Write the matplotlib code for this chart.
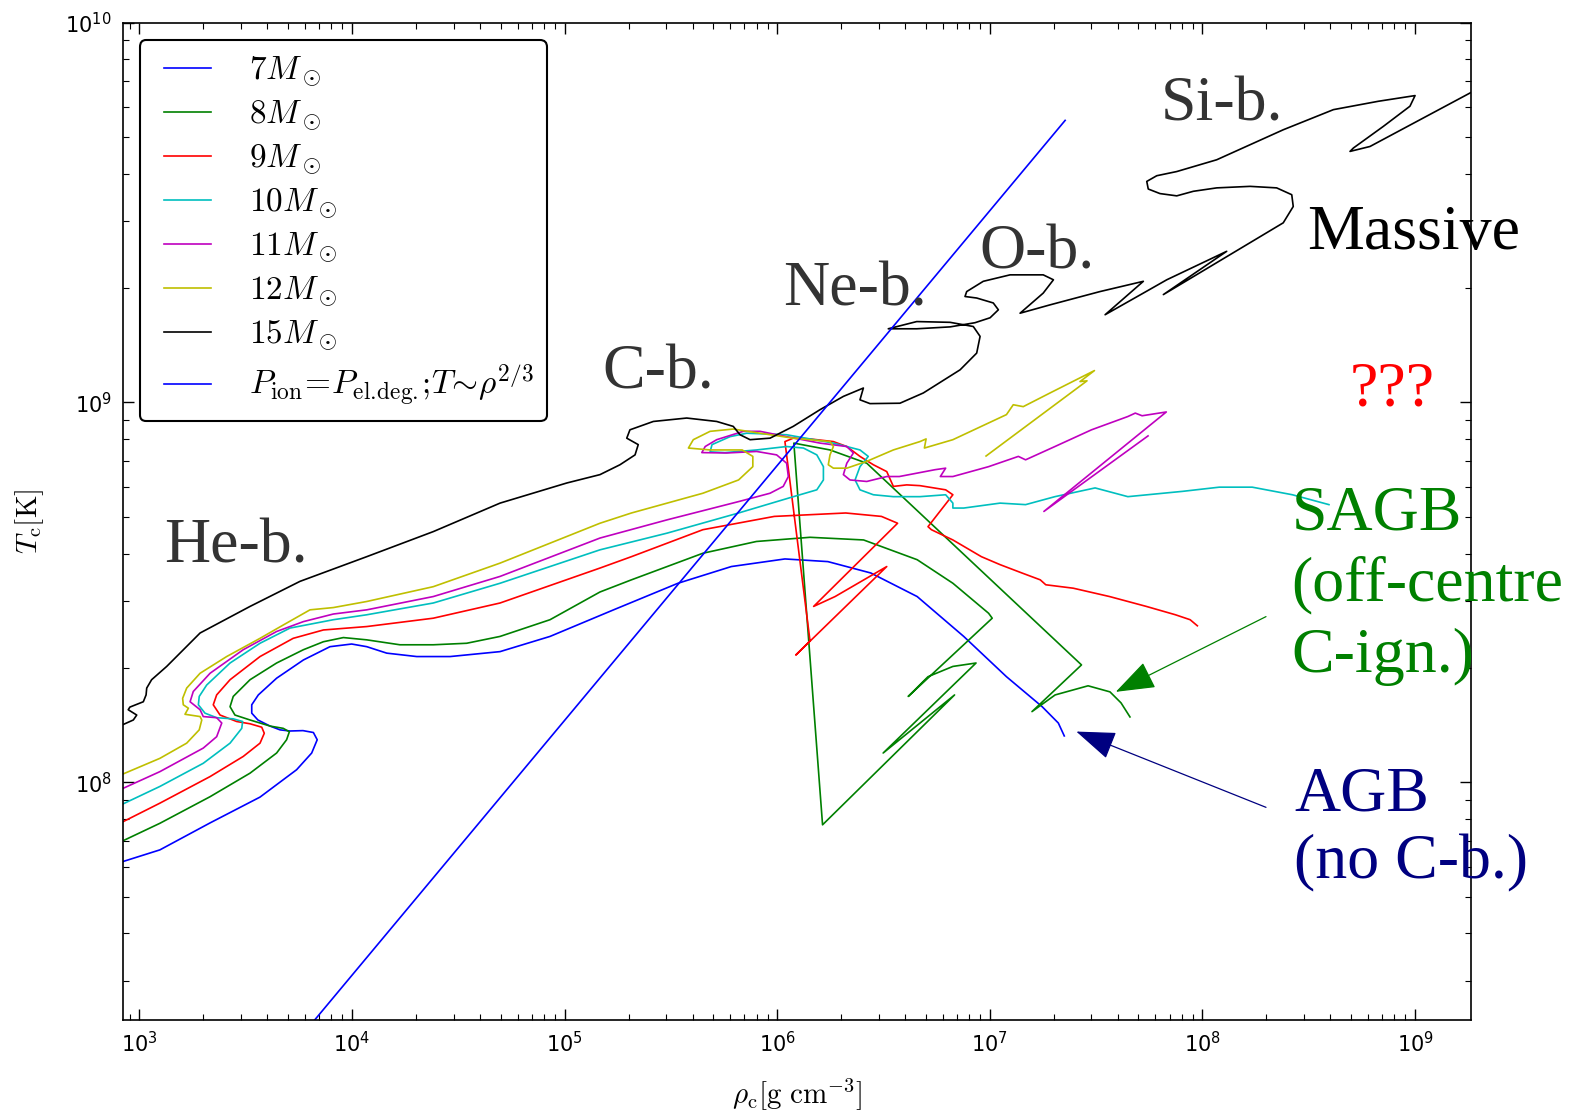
import numpy as np
import matplotlib
matplotlib.use("Agg")
import matplotlib.pyplot as plt
from matplotlib.lines import Line2D
from matplotlib.legend_handler import HandlerLine2D

plt.rcParams['mathtext.fontset'] = 'cm'
plt.rcParams['font.family'] = ['DejaVu Sans']

# Central density / temperature tracks, stored as log10(rho_c [g cm^-3]) and log10(T_c [K])
logrho_7 = [2.915, 3.096, 3.332, 3.567, 3.739, 3.810, 3.836, 3.818, 3.769, 3.708, 3.661, 3.614, 3.557,
            3.528, 3.528, 3.559, 3.645, 3.771, 3.896, 3.998, 4.069, 4.163, 4.304, 4.461, 4.696, 4.931,
            5.230, 5.533, 5.784, 6.036, 6.238, 6.440, 6.658, 6.877, 7.078, 7.246, 7.322, 7.350]
logT_7 = [7.790, 7.822, 7.893, 7.961, 8.033, 8.077, 8.112, 8.131, 8.136, 8.135, 8.138, 8.148, 8.164,
          8.182, 8.204, 8.230, 8.274, 8.322, 8.357, 8.364, 8.357, 8.340, 8.331, 8.331, 8.344, 8.384,
          8.454, 8.524, 8.568, 8.588, 8.581, 8.551, 8.489, 8.384, 8.278, 8.199, 8.156, 8.122]

logrho_8 = [2.915, 3.096, 3.332, 3.520, 3.645, 3.692, 3.705, 3.676, 3.614, 3.520, 3.449, 3.426, 3.441,
            3.520, 3.645, 3.771, 3.865, 3.959, 4.069, 4.225, 4.382, 4.539, 4.696, 4.931, 5.166, 5.314,
            5.650, 5.902, 6.154, 6.406, 6.658, 6.826, 6.994, 7.011, 6.616, 6.709, 6.826, 6.935, 6.498,
            6.834, 6.213, 6.078, 6.248, 6.421, 7.431, 7.198, 7.307, 7.462, 7.565, 7.617, 7.659]
logT_8 = [7.844, 7.892, 7.962, 8.024, 8.077, 8.112, 8.133, 8.142, 8.148, 8.164, 8.177, 8.199, 8.226,
          8.270, 8.314, 8.349, 8.370, 8.381, 8.375, 8.362, 8.362, 8.366, 8.384, 8.428, 8.501, 8.533,
          8.603, 8.634, 8.645, 8.638, 8.586, 8.524, 8.445, 8.432, 8.226, 8.278, 8.305, 8.314, 8.077,
          8.230, 7.888, 8.893, 8.875, 8.840, 8.309, 8.186, 8.230, 8.254, 8.238, 8.209, 8.172]

logrho_9 = [2.915, 3.096, 3.332, 3.488, 3.567, 3.587, 3.575, 3.520, 3.457, 3.379, 3.347, 3.363, 3.426,
            3.567, 3.723, 3.865, 4.069, 4.382, 4.696, 5.166, 5.314, 5.650, 5.986, 6.322, 6.490, 6.566,
            6.171, 6.272, 6.515, 6.087, 6.154, 6.036, 6.075, 6.154, 6.264, 6.327, 6.389, 6.452, 6.515,
            6.546, 6.609, 6.671, 6.792, 6.826, 6.709, 6.725, 6.826, 6.960, 7.048, 7.151, 7.237, 7.263,
            7.392, 7.563, 7.736, 7.873, 7.942, 7.976]
logT_9 = [7.894, 7.945, 8.015, 8.068, 8.103, 8.129, 8.145, 8.154, 8.160, 8.177, 8.204, 8.230, 8.270,
          8.331, 8.379, 8.401, 8.410, 8.432, 8.472, 8.564, 8.594, 8.665, 8.700, 8.709, 8.700, 8.682,
          8.463, 8.489, 8.568, 8.335, 8.372, 8.897, 8.906, 8.904, 8.897, 8.884, 8.858, 8.836, 8.818,
          8.779, 8.783, 8.781, 8.770, 8.757, 8.673, 8.665, 8.638, 8.594, 8.573, 8.551, 8.533, 8.520,
          8.511, 8.489, 8.463, 8.441, 8.428, 8.412]

logrho_10 = [2.915, 3.096, 3.300, 3.426, 3.481, 3.485, 3.441, 3.363, 3.308, 3.277, 3.281, 3.316, 3.426,
             3.567, 3.708, 3.912, 4.069, 4.382, 4.696, 5.166, 5.482, 5.818, 6.076, 6.186, 6.217, 6.217,
             6.186, 6.123, 6.044, 5.903, 5.754, 5.684, 5.693, 5.778, 5.856, 6.044, 6.264, 6.389, 6.428,
             6.389, 6.366, 6.389, 6.452, 6.546, 6.671, 6.792, 6.826, 6.826, 6.877, 7.048, 7.168, 7.306,
             7.495, 7.649, 7.907, 8.079, 8.234, 8.423, 8.595]
logT_10 = [7.941, 7.989, 8.050, 8.103, 8.142, 8.160, 8.167, 8.170, 8.182, 8.204, 8.226, 8.256, 8.314,
           8.366, 8.406, 8.428, 8.441, 8.472, 8.524, 8.612, 8.656, 8.709, 8.752, 8.770, 8.796, 8.831,
           8.862, 8.880, 8.884, 8.875, 8.868, 8.870, 8.889, 8.910, 8.919, 8.915, 8.893, 8.875, 8.858,
           8.831, 8.796, 8.770, 8.757, 8.752, 8.752, 8.757, 8.735, 8.722, 8.722, 8.735, 8.731, 8.752,
           8.775, 8.752, 8.766, 8.777, 8.777, 8.757, 8.731]

logrho_11 = [2.915, 3.096, 3.300, 3.363, 3.387, 3.363, 3.300, 3.285, 3.238, 3.253, 3.332, 3.488, 3.645,
             3.771, 3.912, 4.069, 4.382, 4.696, 5.166, 5.482, 5.818, 5.966, 6.028, 6.052, 6.044, 5.997,
             5.903, 5.762, 5.645, 5.661, 5.715, 5.840, 5.919, 6.044, 6.201, 6.327, 6.358, 6.327, 6.311,
             6.342, 6.421, 6.515, 6.574, 6.742, 6.792, 6.767, 6.826, 6.994, 7.134, 7.168, 7.306, 7.478,
             7.649, 7.684, 7.716, 7.830, 7.254, 7.744]
logT_11 = [7.982, 8.028, 8.090, 8.120, 8.156, 8.170, 8.173, 8.191, 8.212, 8.239, 8.287, 8.349, 8.397,
           8.423, 8.443, 8.454, 8.489, 8.542, 8.643, 8.691, 8.739, 8.761, 8.779, 8.805, 8.840, 8.862,
           8.871, 8.867, 8.868, 8.884, 8.902, 8.924, 8.924, 8.910, 8.893, 8.884, 8.867, 8.840, 8.810,
           8.796, 8.792, 8.805, 8.805, 8.823, 8.827, 8.805, 8.805, 8.831, 8.858, 8.849, 8.884, 8.928,
           8.963, 8.972, 8.965, 8.975, 8.713, 8.912]

logrho_12 = [2.915, 3.096, 3.222, 3.281, 3.293, 3.285, 3.238, 3.214, 3.230, 3.206, 3.203, 3.222, 3.285,
             3.410, 3.567, 3.676, 3.802, 3.912, 4.069, 4.382, 4.696, 5.166, 5.314, 5.650, 5.818, 5.885,
             5.885, 5.835, 5.684, 5.582, 5.605, 5.684, 5.793, 5.919, 6.075, 6.248, 6.264, 6.248, 6.240,
             6.264, 6.327, 6.421, 6.546, 6.671, 6.700, 6.692, 6.826, 7.078, 7.110, 7.157, 7.283, 7.492,
             7.424, 7.457, 6.982]
logT_12 = [8.020, 8.063, 8.103, 8.138, 8.164, 8.173, 8.177, 8.179, 8.195, 8.204, 8.221, 8.248, 8.287,
           8.331, 8.379, 8.414, 8.454, 8.460, 8.476, 8.515, 8.577, 8.682, 8.709, 8.761, 8.796, 8.831,
           8.858, 8.875, 8.875, 8.880, 8.902, 8.924, 8.930, 8.919, 8.906, 8.897, 8.884, 8.862, 8.836,
           8.827, 8.827, 8.845, 8.875, 8.897, 8.904, 8.880, 8.902, 8.968, 8.994, 8.989, 9.025, 9.084,
           9.055, 9.057, 8.859]

logrho_15 = [2.915, 2.971, 2.987, 2.947, 2.955, 3.018, 3.031, 3.034, 3.057, 3.128,
             3.285, 3.520, 3.755, 4.069, 4.382, 4.696, 5.010, 5.166, 5.260, 5.331,
             5.346, 5.292, 5.307, 5.417, 5.574, 5.715, 5.793, 5.825, 5.872, 5.966,
             6.075, 6.201, 6.311, 6.405, 6.389, 6.436, 6.577, 6.687, 6.860, 6.938,
             6.954, 6.922, 6.813, 6.656, 6.522, 6.656, 6.813, 6.930, 7.001, 7.040,
             7.016, 6.938, 6.883, 6.891, 6.969, 7.095, 7.251, 7.299, 7.251, 7.142,
             7.283, 7.518, 7.722, 7.542, 7.722, 7.832, 8.114, 7.816, 8.380, 8.427,
             8.420, 8.349, 8.224, 8.067, 7.957, 7.879, 7.800, 7.745, 7.738, 7.785,
             7.879, 8.067, 8.380, 8.616, 8.827, 9.000, 8.976, 8.851, 8.710, 8.694,
             8.788, 9.306]
logT_15 = [8.150, 8.164, 8.177, 8.191, 8.198, 8.212, 8.230, 8.248, 8.270, 8.305,
           8.393, 8.463, 8.529, 8.594, 8.660, 8.735, 8.788, 8.810, 8.836, 8.862,
           8.889, 8.906, 8.928, 8.950, 8.959, 8.950, 8.937, 8.915, 8.902, 8.906,
           8.937, 8.981, 9.016, 9.038, 9.007, 8.997, 8.998, 9.025, 9.086, 9.130,
           9.174, 9.200, 9.211, 9.213, 9.194, 9.194, 9.199, 9.210, 9.223, 9.244,
           9.262, 9.275, 9.279, 9.292, 9.319, 9.336, 9.336, 9.323, 9.288, 9.235,
           9.257, 9.292, 9.319, 9.231, 9.288, 9.323, 9.398, 9.284, 9.473, 9.516,
           9.547, 9.565, 9.569, 9.565, 9.556, 9.544, 9.550, 9.562, 9.582, 9.597,
           9.608, 9.639, 9.718, 9.771, 9.793, 9.808, 9.780, 9.727, 9.670, 9.661,
           9.674, 9.829]

# Boundary P_ion = P_el.deg. (T ~ rho^(2/3)), end points
rho_deg = [6.62e3, 2.26e7]
T_deg = [2.355e7, 5.53e9]

masses = [7, 8, 9, 10, 11, 12, 15]
colors = ['b', 'g', 'r', 'c', 'm', 'y', 'k']
tracks = [(logrho_7, logT_7), (logrho_8, logT_8), (logrho_9, logT_9), (logrho_10, logT_10),
          (logrho_11, logT_11), (logrho_12, logT_12), (logrho_15, logT_15)]

fig = plt.figure(figsize=(15.73, 11.11), dpi=100)
ax = fig.add_axes([0.0780, 0.0817, 0.8570, 0.8979])
ax.set_xscale('log')
ax.set_yscale('log')

for m, c, (lr, lt) in zip(masses, colors, tracks):
    ax.plot(10 ** np.array(lr), 10 ** np.array(lt), color=c, lw=1.2,
            label=r'$%d M_\odot$' % m)
ax.plot(rho_deg, T_deg, color='b', lw=1.2,
        label=r'$P_\mathrm{ion}\!=\!P_\mathrm{el.\!deg.\!};\!T\!\sim\!\rho^{2/3}$')

ax.set_xlim(833.7, 1.828e9)
ax.set_ylim(2.363e7, 1e10)
ax.set_xticks([1e3, 1e4, 1e5, 1e6, 1e7, 1e8, 1e9])
ax.set_yticks([1e8, 1e9, 1e10])

ax.tick_params(which='both', direction='in', top=True, right=True)
ax.tick_params(which='major', length=8, width=1, labelsize=15, pad=8)
ax.tick_params(which='minor', length=4, width=0.8)
for sp in ax.spines.values():
    sp.set_linewidth(1.2)

ax.set_xlabel(r'$\rho_\mathrm{c}[\mathrm{g\ cm}^{-3}]$', fontsize=21, labelpad=14)
ax.set_ylabel(r'$T_\mathrm{c}[\mathrm{K}]$', fontsize=21, labelpad=14)

leg = ax.legend(loc='upper left', bbox_to_anchor=(0.0125, 0.9826), borderaxespad=0,
                fontsize=24, handlelength=1.73, handletextpad=1.14, labelspacing=0.255,
                borderpad=0.4, fancybox=True, framealpha=1, edgecolor='black',
                handler_map={Line2D: HandlerLine2D(xpad=0.32)})
leg.get_frame().set_linewidth(1.5)

# Burning-phase labels
serif = 'Liberation Serif'
phase_labels = [('He-b.', 1.30e3, 3.78e8, '#333333'),
                ('C-b.', 1.50e5, 1.09e9, '#333333'),
                ('Ne-b.', 1.07e6, 1.80e9, '#333333'),
                ('O-b.', 8.91e6, 2.25e9, '#333333'),
                ('Si-b.', 6.37e7, 5.51e9, '#333333'),
                ('Massive', 3.11e8, 2.54e9, 'black'),
                ('???', 4.91e8, 9.80e8, 'red')]
for txt, x, y, col in phase_labels:
    ax.text(x, y, txt, fontsize=46, family=serif, color=col, ha='left', va='baseline')

for txt, y in zip(['SAGB', '(off-centre', 'C-ign.)'], [4.62e8, 3.02e8, 1.95e8]):
    ax.text(2.62e8, y, txt, fontsize=46, family=serif, color='green', ha='left', va='baseline')
for txt, y in zip(['AGB', '(no C-b.)'], [8.43e7, 5.57e7]):
    ax.text(2.70e8, y, txt, fontsize=46, family=serif, color='navy', ha='left', va='baseline')

ax.annotate('', xy=(3.91e7, 1.73e8), xytext=(1.99e8, 2.73e8),
            arrowprops=dict(arrowstyle='-|>,head_length=1.25,head_width=0.45',
                            color='green', lw=0.9, mutation_scale=20, shrinkA=0, shrinkB=0))
ax.annotate('', xy=(2.55e7, 1.36e8), xytext=(1.99e8, 8.59e7),
            arrowprops=dict(arrowstyle='-|>,head_length=1.25,head_width=0.45',
                            color='navy', lw=0.9, mutation_scale=20, shrinkA=0, shrinkB=0))

fig.savefig('out.png', dpi=100)
